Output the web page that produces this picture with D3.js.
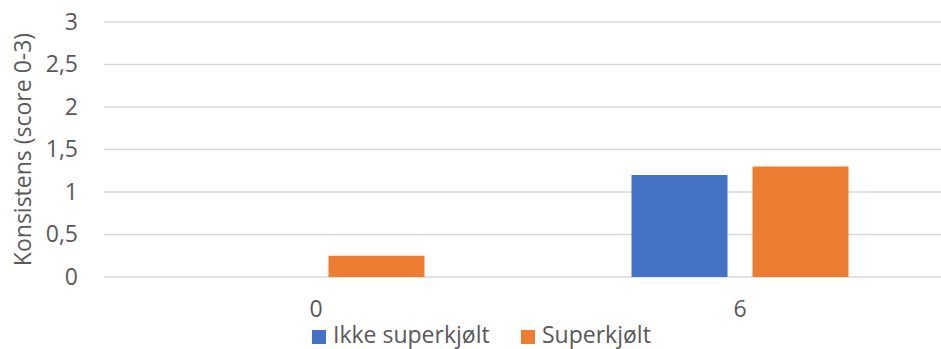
<!DOCTYPE html>
<html>
<head>
<meta charset="utf-8">
<script src="https://cdn.jsdelivr.net/npm/d3@7"></script>
<style>
  html, body { margin: 0; padding: 0; background: #fff; }
  svg { display: block; }
  text { font-family: "Open Sans", "Liberation Sans", sans-serif; fill: #595959; }
</style>
</head>
<body>
<svg id="chart" width="941" height="349"></svg>
<script>
// Consistency score by storage day, supercooled vs not supercooled
const categories = ["0", "6"];
const seriesNames = ["Ikke superkjølt", "Superkjølt"];
const ikkeSuperkjolt = [null, 1.2];
const superkjolt = [0.25, 1.3];
const yTicks = [0, 0.5, 1, 1.5, 2, 2.5, 3];
const yTitle = "Konsistens (score 0-3)";
const colors = ["#4472C4", "#ED7D31"];
const FONT = "'Open Sans', 'Liberation Sans', sans-serif";
const FS = 23;

const svg = d3.select("#chart");
const plot = { left: 104, right: 952, top: 22, bottom: 277 };

const x0 = d3.scaleBand().domain(categories).range([plot.left, plot.right]).padding(0);
const x1 = d3.scaleBand().domain(seriesNames)
  .range([103.5, 320.5]).paddingInner(25 / 121).paddingOuter(0);
const y = d3.scaleLinear().domain([0, 3]).range([plot.bottom, plot.top]);

const fmt = d => String(d).replace(".", ",");

// horizontal gridlines
svg.append("g").selectAll("line").data(yTicks).join("line")
  .attr("x1", plot.left).attr("x2", plot.right)
  .attr("y1", d => y(d)).attr("y2", d => y(d))
  .attr("stroke", "#d9d9d9").attr("stroke-width", 1.3);

// y axis labels
const yAxis = d3.axisLeft(y).tickValues(yTicks).tickFormat(fmt).tickSize(0).tickPadding(0);
const gy = svg.append("g").attr("transform", "translate(78,0)").call(yAxis);
gy.select(".domain").remove();
gy.selectAll("text").attr("font-size", FS).attr("fill", "#595959")
  .style("font-family", FONT);

// x axis labels
const xAxis = d3.axisBottom(x0).tickSize(0).tickPadding(0);
const gx = svg.append("g").attr("transform", `translate(0,${plot.bottom + 32})`).call(xAxis);
gx.select(".domain").remove();
gx.selectAll("text").attr("font-size", FS).attr("fill", "#595959")
  .style("font-family", FONT)
  .attr("dy", "0.35em");

// bars
const seriesData = [ikkeSuperkjolt, superkjolt];
const groups = svg.append("g").selectAll("g").data(categories).join("g")
  .attr("transform", d => `translate(${x0(d)},0)`);
groups.selectAll("rect")
  .data((c, ci) => seriesNames.map((s, si) => ({ s, si, v: seriesData[si][ci] })).filter(d => d.v != null))
  .join("rect")
  .attr("x", d => x1(d.s))
  .attr("width", x1.bandwidth())
  .attr("y", d => y(d.v))
  .attr("height", d => y(0) - y(d.v))
  .attr("fill", d => colors[d.si]);

// y axis title
svg.append("text")
  .attr("transform", `translate(31,${(plot.top + plot.bottom) / 2}) rotate(-90)`)
  .attr("text-anchor", "middle")
  .attr("font-size", FS)
  .text(yTitle);

// legend
const legendX = [312, 521];
const legend = svg.append("g").selectAll("g").data(seriesNames).join("g")
  .attr("transform", (d, i) => `translate(${legendX[i]},330)`);
legend.append("rect").attr("width", 14).attr("height", 14).attr("fill", (d, i) => colors[i]);
legend.append("text").attr("x", 21).attr("y", 13).attr("font-size", FS).text(d => d);
</script>
</body>
</html>
